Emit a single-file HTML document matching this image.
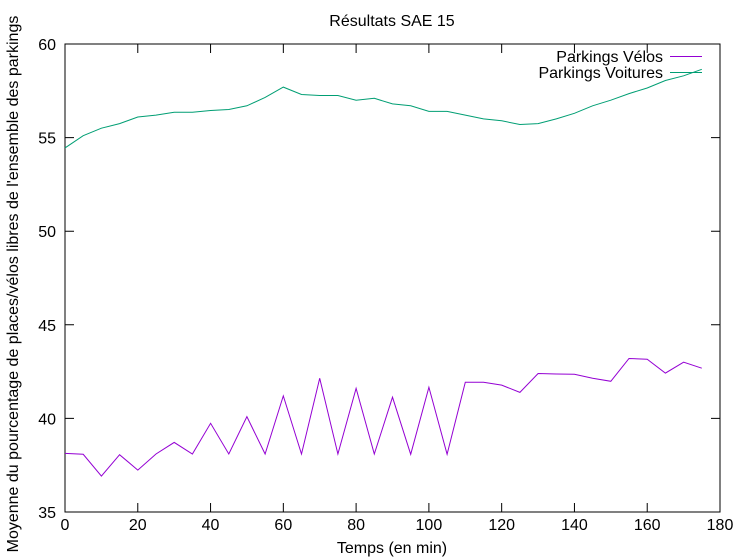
<!DOCTYPE html>
<html><head><meta charset="utf-8"><style>
body{margin:0;background:#fff}
svg{display:block;font-family:"Liberation Sans",sans-serif;font-size:16px}
</style></head><body>
<svg id="c" width="746" height="560">
<text x="392" y="26" text-anchor="middle">Résultats SAE 15</text>
<text x="392" y="553" text-anchor="middle">Temps (en min)</text>
<text transform="translate(18,284) rotate(-90)" text-anchor="middle">Moyenne du pourcentage de places/vélos libres de l'ensemble des parkings</text>
<g id="ax"></g>
<rect x="65" y="44" width="655" height="468" fill="none" stroke="#000"/>
<g id="series"></g>
<g>
<text x="663" y="62" text-anchor="end">Parkings Vélos</text>
<line x1="670" y1="56.5" x2="702" y2="56.5" stroke="#9400d3"/>
<text x="663" y="78" text-anchor="end">Parkings Voitures</text>
<line x1="670" y1="72.5" x2="702" y2="72.5" stroke="#009e73"/>
</g>
</svg>
<script>
const times=[0,5,10,15,20,25,30,35,40,45,50,55,60,65,70,75,80,85,90,95,100,105,110,115,120,125,130,135,140,145,150,155,160,165,170,175];
const velos=[38.13,38.08,36.92,38.06,37.24,38.1,38.72,38.1,39.74,38.1,40.09,38.1,41.2,38.1,42.14,38.1,41.6,38.1,41.13,38.08,41.66,38.08,41.93,41.93,41.78,41.39,42.4,42.37,42.36,42.14,41.98,43.2,43.16,42.42,43.0,42.68];
const voitures=[54.45,55.1,55.5,55.75,56.1,56.2,56.35,56.35,56.45,56.5,56.7,57.15,57.7,57.3,57.25,57.25,57.0,57.1,56.8,56.7,56.4,56.4,56.2,56.0,55.9,55.7,55.75,56.0,56.3,56.7,57.0,57.35,57.65,58.05,58.3,58.65];
const xTicks=[0,20,40,60,80,100,120,140,160,180];
const yTicks=[35,40,45,50,55,60];
const NS="http://www.w3.org/2000/svg";
const X=v=>65+v*655/180, Y=v=>512-(v-35)*468/25;
const ax=document.getElementById('ax'), sg=document.getElementById('series');
function mk(t,a,p){const e=document.createElementNS(NS,t);for(const k in a)e.setAttribute(k,a[k]);p.appendChild(e);return e;}
xTicks.forEach(v=>{const x=X(v);
 const l=mk('path',{d:`M${x} 512V503M${x} 44V53`,stroke:'#000'},ax);
 
 
 const t=mk('text',{x:x,y:530,'text-anchor':'middle'},ax);t.textContent=v;
 
 });
yTicks.forEach(v=>{const y=Y(v);
 const l=mk('path',{d:`M65 ${y}H74M720 ${y}H711`,stroke:'#000'},ax);
 
 
 const t=mk('text',{x:56,y:y+6,'text-anchor':'end'},ax);t.textContent=v;
 
 });
function line(d,c){return d.map((v,i)=>(i?'L':'M')+X(times[i]).toFixed(1)+' '+Y(v).toFixed(1)).join('');}
const p1=mk('path',{d:line(velos),stroke:'#9400d3',fill:'none'},sg);


const p2=mk('path',{d:line(voitures),stroke:'#009e73',fill:'none'},sg);


</script>
</body></html>
